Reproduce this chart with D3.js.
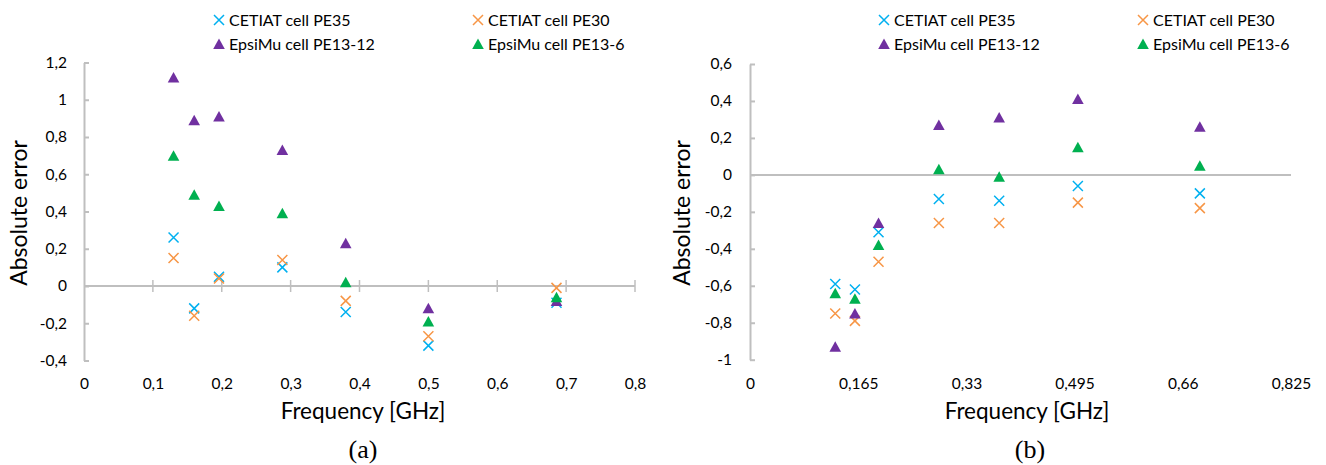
<!DOCTYPE html>
<html>
<head>
<meta charset="utf-8">
<script src="https://cdn.jsdelivr.net/npm/d3@7"></script>
<style>
  body { margin: 0; background: #fff; }
  text { font-family: Lato, "Open Sans", sans-serif; fill: #000; }
</style>
</head>
<body>
<div id="chart"></div>
<script>
// frequencies [GHz] (same for both panels)
var freq = [0.13, 0.16, 0.196, 0.288, 0.38, 0.5, 0.686];

// panel (a)
var pe35A = [0.26, -0.12, 0.05, 0.10, -0.14, -0.32, -0.09];
var pe30A = [0.15, -0.16, 0.04, 0.14, -0.08, -0.27, -0.01];
var pe1312A = [1.12, 0.89, 0.91, 0.73, 0.23, -0.12, -0.08];
var pe136A = [0.70, 0.49, 0.43, 0.39, 0.02, -0.19, -0.06];

// panel (b)
var pe35B = [-0.59, -0.62, -0.31, -0.13, -0.14, -0.06, -0.10];
var pe30B = [-0.75, -0.79, -0.47, -0.26, -0.26, -0.15, -0.18];
var pe1312B = [-0.93, -0.75, -0.26, 0.27, 0.31, 0.41, 0.26];
var pe136B = [-0.64, -0.67, -0.38, 0.03, -0.01, 0.15, 0.05];

var seriesNames = ["CETIAT cell PE35", "CETIAT cell PE30", "EpsiMu cell PE13-12", "EpsiMu cell PE13-6"];
var seriesColors = ["#00b0f0", "#f79646", "#7030a0", "#00b050"];
var seriesShapes = ["x", "x", "tri", "tri"];

var xTicksA = [0, 0.1, 0.2, 0.3, 0.4, 0.5, 0.6, 0.7, 0.8];
var yTicksA = [-0.4, -0.2, 0, 0.2, 0.4, 0.6, 0.8, 1, 1.2];
var xTicksB = [0, 0.165, 0.33, 0.495, 0.66, 0.825];
var yTicksB = [-1, -0.8, -0.6, -0.4, -0.2, 0, 0.2, 0.4, 0.6];

var svg = d3
  .select("#chart")
  .append("svg")
  .attr("width", 1326)
  .attr("height", 465);

function comma(d) {
  return String(d).replace(".", ",");
}

function marker(g, shape, color) {
  if (shape == "x") {
    g.append("path")
      .attr("d", "M-5,-5L5,5M-5,5L5,-5")
      .attr("stroke", color)
      .attr("stroke-width", 1.5)
      .attr("fill", "none");
  } else {
    g.append("path")
      .attr("d", "M0,-5.5L5.8,5L-5.8,5Z")
      .attr("fill", color);
  }
}

function panel(opt) {
  var x = d3.scaleLinear().domain(opt.xDomain).range(opt.xRange);
  var y = d3.scaleLinear().domain(opt.yDomain).range(opt.yRange);
  var g = svg.append("g");
  var axisColor = "#bfbfbf";

  // y axis
  var yAxis = d3
    .axisLeft(y)
    .tickValues(opt.yTicks)
    .tickFormat(comma)
    .tickSizeInner(-5)
    .tickSizeOuter(0)
    .tickPadding(opt.yPad);
  var ya = g.append("g").attr("transform", "translate(" + opt.xRange[0] + ",0)").call(yAxis);
  ya.select(".domain").attr("stroke", axisColor).attr("stroke-width", 2);
  ya.selectAll(".tick line").attr("stroke", axisColor).attr("stroke-width", 2);
  ya.selectAll(".tick text").style("font-size", "15.5px").attr("font-family", null);

  // zero line
  var zl = g.append("g").attr("transform", "translate(0," + y(0) + ")");
  zl.append("line")
    .attr("x1", opt.xRange[0])
    .attr("x2", opt.xRange[1])
    .attr("stroke", axisColor)
    .attr("stroke-width", 2);
  if (opt.zeroTicks) {
    zl.selectAll("line.tk")
      .data(opt.xTicks.slice(1))
      .enter()
      .append("line")
      .attr("class", "tk")
      .attr("x1", function (d) { return x(d); })
      .attr("x2", function (d) { return x(d); })
      .attr("y1", -6)
      .attr("y2", 6)
      .attr("stroke", axisColor)
      .attr("stroke-width", 1.5);
  }

  // x labels at the bottom
  var xAxis = d3
    .axisBottom(x)
    .tickValues(opt.xTicks)
    .tickFormat(comma)
    .tickSize(0)
    .tickPadding(3);
  var xa = g.append("g").attr("transform", "translate(0,375)").call(xAxis);
  xa.select(".domain").remove();
  xa.selectAll(".tick text").style("font-size", "15.5px").attr("font-family", null);

  // points
  opt.series.forEach(function (vals, s) {
    g.append("g")
      .selectAll("g")
      .data(vals)
      .enter()
      .append("g")
      .attr("transform", function (d, i) {
        return "translate(" + x(freq[i]) + "," + y(d) + ")";
      })
      .each(function () {
        marker(d3.select(this), seriesShapes[s], seriesColors[s]);
      });
  });

  // titles
  g.append("text")
    .attr("transform", "translate(" + opt.yTitleX + ",213) rotate(-90)")
    .attr("text-anchor", "middle")
    .attr("dy", "0.35em")
    .style("font-size", "23px")
    .text("Absolute error");
  g.append("text")
    .attr("x", opt.xTitleX)
    .attr("y", 419)
    .attr("text-anchor", "middle")
    .style("font-size", "22.5px")
    .text("Frequency [GHz]");
  g.append("text")
    .attr("x", opt.capX)
    .attr("y", 458)
    .attr("text-anchor", "middle")
    .style("font-family", "'Liberation Serif', serif")
    .style("font-size", "26px")
    .text(opt.caption);

  // legend
  var lx = [opt.legendX, opt.legendX + 259];
  var ly = [20, 44];
  seriesNames.forEach(function (name, s) {
    var px = lx[s % 2];
    var py = ly[Math.floor(s / 2)];
    var lg = g.append("g").attr("transform", "translate(" + px + "," + py + ")");
    marker(lg, seriesShapes[s], seriesColors[s]);
    lg.append("text")
      .attr("x", 10)
      .attr("dy", "0.35em")
      .style("font-size", "16px")
      .text(name);
  });
}

panel({
  xDomain: [0, 0.8], xRange: [84, 635],
  yDomain: [-0.4, 1.2], yRange: [360.5, 62.5],
  xTicks: xTicksA, yTicks: yTicksA, yPad: 17, zeroTicks: true,
  series: [pe35A, pe30A, pe1312A, pe136A],
  yTitleX: 19, xTitleX: 363, capX: 363, caption: "(a)", legendX: 219
});

panel({
  xDomain: [0, 0.825], xRange: [750, 1291],
  yDomain: [-1, 0.6], yRange: [359.7, 64],
  xTicks: xTicksB, yTicks: yTicksB, yPad: 18, zeroTicks: false,
  series: [pe35B, pe30B, pe1312B, pe136B],
  yTitleX: 682, xTitleX: 1027, capX: 1030, caption: "(b)", legendX: 884
});
</script>
</body>
</html>
